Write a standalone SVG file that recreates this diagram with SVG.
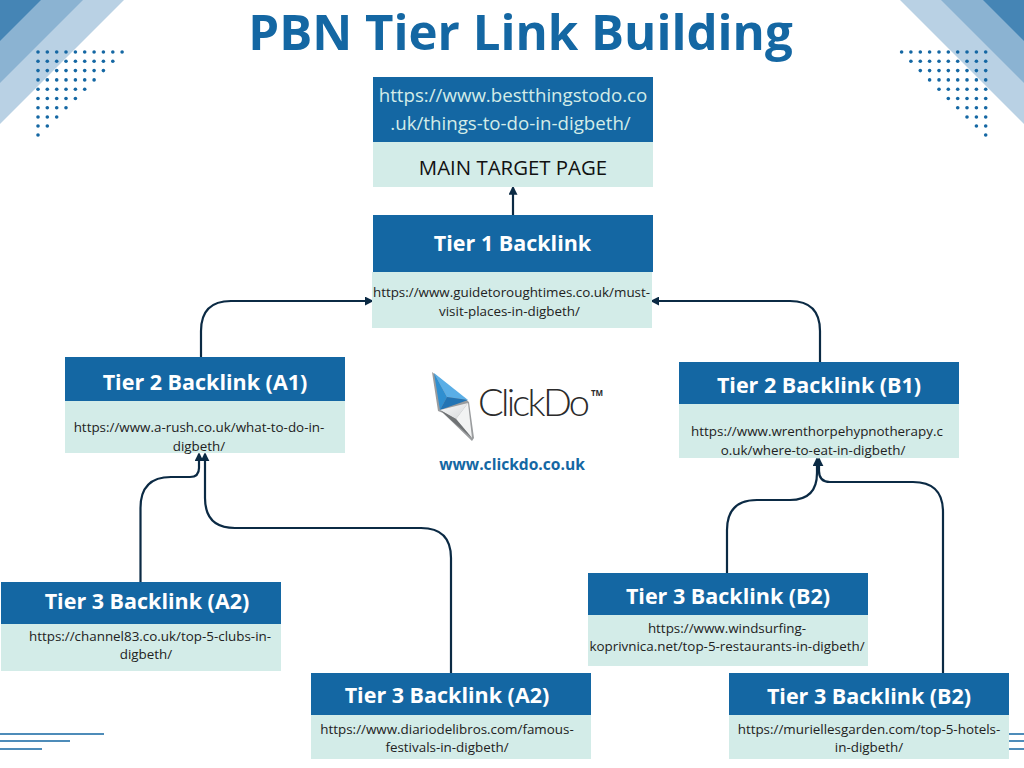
<svg xmlns="http://www.w3.org/2000/svg" xmlns:xlink="http://www.w3.org/1999/xlink" width="1024" height="768" viewBox="0 0 1024 768">
<style>
text{font-family:"Open Sans","Noto Sans",sans-serif;text-anchor:middle}
.head{fill:#1467a3}
.body{fill:#d3ece8}
.h{font-size:21.5px;font-weight:700;fill:#fff}
.u{font-size:13.4px;fill:#222}
.c{fill:none;stroke:#0b2a44;stroke-width:2.2}
.dot{fill:#1467a3}
.bar{fill:none;stroke:#1467a3;stroke-width:1.6}
</style>
<defs>
<marker id="arrow" viewBox="0 0 10 10" refX="8" refY="5" markerWidth="9" markerHeight="9" markerUnits="userSpaceOnUse" orient="auto"><path d="M0 0L10 5L0 10Z" fill="#0b2a44"/></marker>
<circle id="d" r="1.8" class="dot"/>
<linearGradient id="blade" x1="0" y1="0" x2="1" y2="1"><stop offset="0" stop-color="#fafafa"/><stop offset="1" stop-color="#d5d8da"/></linearGradient>
</defs>

<!-- corner bands -->
<g id="corner-left">
<polygon points="0,0 124,0 0,124" fill="#b9d1e4"/>
<polygon points="0,0 83,0 0,83" fill="#8bb3d2"/>
<polygon points="0,0 41,0 0,41" fill="#4585b5"/>
</g>
<g id="corner-right">
<polygon points="1024,0 900,0 1024,124" fill="#b9d1e4"/>
<polygon points="1024,0 941,0 1024,83" fill="#8bb3d2"/>
<polygon points="1024,0 983,0 1024,41" fill="#4585b5"/>
</g>

<!-- dot fields -->
<g id="dots-left">
<use xlink:href="#d" x="38" y="52"/><use xlink:href="#d" x="47.3" y="52"/><use xlink:href="#d" x="56.7" y="52"/><use xlink:href="#d" x="66" y="52"/><use xlink:href="#d" x="75.4" y="52"/><use xlink:href="#d" x="84.7" y="52"/><use xlink:href="#d" x="94.1" y="52"/><use xlink:href="#d" x="103.4" y="52"/><use xlink:href="#d" x="112.8" y="52"/><use xlink:href="#d" x="122.1" y="52"/>
<use xlink:href="#d" x="38" y="61.3"/><use xlink:href="#d" x="47.3" y="61.3"/><use xlink:href="#d" x="56.7" y="61.3"/><use xlink:href="#d" x="66" y="61.3"/><use xlink:href="#d" x="75.4" y="61.3"/><use xlink:href="#d" x="84.7" y="61.3"/><use xlink:href="#d" x="94.1" y="61.3"/><use xlink:href="#d" x="103.4" y="61.3"/><use xlink:href="#d" x="112.8" y="61.3"/>
<use xlink:href="#d" x="38" y="70.6"/><use xlink:href="#d" x="47.3" y="70.6"/><use xlink:href="#d" x="56.7" y="70.6"/><use xlink:href="#d" x="66" y="70.6"/><use xlink:href="#d" x="75.4" y="70.6"/><use xlink:href="#d" x="84.7" y="70.6"/><use xlink:href="#d" x="94.1" y="70.6"/><use xlink:href="#d" x="103.4" y="70.6"/>
<use xlink:href="#d" x="38" y="79.9"/><use xlink:href="#d" x="47.3" y="79.9"/><use xlink:href="#d" x="56.7" y="79.9"/><use xlink:href="#d" x="66" y="79.9"/><use xlink:href="#d" x="75.4" y="79.9"/><use xlink:href="#d" x="84.7" y="79.9"/><use xlink:href="#d" x="94.1" y="79.9"/>
<use xlink:href="#d" x="38" y="89.2"/><use xlink:href="#d" x="47.3" y="89.2"/><use xlink:href="#d" x="56.7" y="89.2"/><use xlink:href="#d" x="66" y="89.2"/><use xlink:href="#d" x="75.4" y="89.2"/><use xlink:href="#d" x="84.7" y="89.2"/>
<use xlink:href="#d" x="38" y="98.5"/><use xlink:href="#d" x="47.3" y="98.5"/><use xlink:href="#d" x="56.7" y="98.5"/><use xlink:href="#d" x="66" y="98.5"/><use xlink:href="#d" x="75.4" y="98.5"/>
<use xlink:href="#d" x="38" y="107.8"/><use xlink:href="#d" x="47.3" y="107.8"/><use xlink:href="#d" x="56.7" y="107.8"/><use xlink:href="#d" x="66" y="107.8"/>
<use xlink:href="#d" x="38" y="117"/><use xlink:href="#d" x="47.3" y="117"/><use xlink:href="#d" x="56.7" y="117"/>
<use xlink:href="#d" x="38" y="126"/><use xlink:href="#d" x="47.3" y="126"/>
<use xlink:href="#d" x="38" y="135"/>
</g>
<g id="dots-right">
<use xlink:href="#d" x="985.7" y="52"/><use xlink:href="#d" x="976.4" y="52"/><use xlink:href="#d" x="967" y="52"/><use xlink:href="#d" x="957.7" y="52"/><use xlink:href="#d" x="948.3" y="52"/><use xlink:href="#d" x="939" y="52"/><use xlink:href="#d" x="929.6" y="52"/><use xlink:href="#d" x="920.3" y="52"/><use xlink:href="#d" x="910.9" y="52"/><use xlink:href="#d" x="901.6" y="52"/>
<use xlink:href="#d" x="985.7" y="61.3"/><use xlink:href="#d" x="976.4" y="61.3"/><use xlink:href="#d" x="967" y="61.3"/><use xlink:href="#d" x="957.7" y="61.3"/><use xlink:href="#d" x="948.3" y="61.3"/><use xlink:href="#d" x="939" y="61.3"/><use xlink:href="#d" x="929.6" y="61.3"/><use xlink:href="#d" x="920.3" y="61.3"/><use xlink:href="#d" x="910.9" y="61.3"/>
<use xlink:href="#d" x="985.7" y="70.6"/><use xlink:href="#d" x="976.4" y="70.6"/><use xlink:href="#d" x="967" y="70.6"/><use xlink:href="#d" x="957.7" y="70.6"/><use xlink:href="#d" x="948.3" y="70.6"/><use xlink:href="#d" x="939" y="70.6"/><use xlink:href="#d" x="929.6" y="70.6"/><use xlink:href="#d" x="920.3" y="70.6"/>
<use xlink:href="#d" x="985.7" y="79.9"/><use xlink:href="#d" x="976.4" y="79.9"/><use xlink:href="#d" x="967" y="79.9"/><use xlink:href="#d" x="957.7" y="79.9"/><use xlink:href="#d" x="948.3" y="79.9"/><use xlink:href="#d" x="939" y="79.9"/><use xlink:href="#d" x="929.6" y="79.9"/>
<use xlink:href="#d" x="985.7" y="89.2"/><use xlink:href="#d" x="976.4" y="89.2"/><use xlink:href="#d" x="967" y="89.2"/><use xlink:href="#d" x="957.7" y="89.2"/><use xlink:href="#d" x="948.3" y="89.2"/><use xlink:href="#d" x="939" y="89.2"/>
<use xlink:href="#d" x="985.7" y="98.5"/><use xlink:href="#d" x="976.4" y="98.5"/><use xlink:href="#d" x="967" y="98.5"/><use xlink:href="#d" x="957.7" y="98.5"/><use xlink:href="#d" x="948.3" y="98.5"/>
<use xlink:href="#d" x="985.7" y="107.8"/><use xlink:href="#d" x="976.4" y="107.8"/><use xlink:href="#d" x="967" y="107.8"/><use xlink:href="#d" x="957.7" y="107.8"/>
<use xlink:href="#d" x="985.7" y="117"/><use xlink:href="#d" x="976.4" y="117"/><use xlink:href="#d" x="967" y="117"/>
<use xlink:href="#d" x="985.7" y="126"/><use xlink:href="#d" x="976.4" y="126"/>
<use xlink:href="#d" x="985.7" y="135"/>
</g>

<!-- footer rules -->
<g id="rules-left">
<path class="bar" d="M0 734H104M0 741H70M0 749H42"/>
</g>
<g id="rules-right">
<path class="bar" d="M1009 734H1024M1009 741H1024M1009 749H1024"/>
</g>

<text id="title" x="520.500" y="50" font-size="49.200" font-weight="700" fill="#1467a3">PBN Tier Link Building</text>

<!-- links between tiers -->
<g id="connectors">
<path class="c" marker-end="url(#arrow)" d="M513 215V187.500"/>
<path class="c" marker-end="url(#arrow)" d="M201 357V331Q201 301 231 301H372"/>
<path class="c" marker-end="url(#arrow)" d="M820 362V331Q820 301 790 301H652"/>
<path class="c" marker-end="url(#arrow)" d="M140.500 582V508Q140.500 477 171 477H190Q199 477 199 468V454"/>
<path class="c" marker-end="url(#arrow)" d="M451 673V558Q451 528 421 528H235Q205 528 205 498V454"/>
<path class="c" marker-end="url(#arrow)" d="M727 573V530Q727 500 757 500H790Q817 500 817 473V459"/>
<path class="c" marker-end="url(#arrow)" d="M943 673V512Q943 482 913 482H830Q819 482 819 471V459"/>
</g>

<g id="node-main">
<rect class="head" x="373" y="77" width="280" height="65"/>
<rect class="body" x="373" y="142" width="280" height="45"/>
<text x="513" y="102" font-size="18.700" fill="#d3ece8">https://www.bestthingstodo.co</text>
<text x="510.500" y="130" font-size="18.700" fill="#d3ece8">.uk/things-to-do-in-digbeth/</text>
<text x="513" y="175" font-size="20.400" fill="#111">MAIN TARGET PAGE</text>
</g>
<g id="node-tier1">
<rect class="head" x="373" y="215" width="280" height="57"/>
<rect class="body" x="372" y="272" width="280" height="56"/>
<text class="h" x="512.500" y="251">Tier 1 Backlink</text>
<text class="u" x="511.500" y="297">https://www.guidetoroughtimes.co.uk/must-</text>
<text class="u" x="509.500" y="316">visit-places-in-digbeth/</text>
</g>
<g id="node-a1">
<rect class="head" x="65" y="357" width="280" height="44"/>
<rect class="body" x="65" y="401" width="280" height="52"/>
<text class="h" x="205" y="390">Tier 2 Backlink (A1)</text>
<text class="u" x="199" y="432">https://www.a-rush.co.uk/what-to-do-in-</text>
<text class="u" x="199" y="451">digbeth/</text>
</g>
<g id="node-b1">
<rect class="head" x="679" y="362" width="280" height="42"/>
<rect class="body" x="679" y="404" width="280" height="54"/>
<text class="h" x="819" y="393">Tier 2 Backlink (B1)</text>
<text class="u" x="817" y="436">https://www.wrenthorpehypnotherapy.c</text>
<text class="u" x="813" y="455">o.uk/where-to-eat-in-digbeth/</text>
</g>
<g id="node-a2-left">
<rect class="head" x="1" y="582" width="280" height="42"/>
<rect class="body" x="1" y="624" width="280" height="47"/>
<text class="h" x="147" y="609">Tier 3 Backlink (A2)</text>
<text class="u" x="150" y="641">https://channel83.co.uk/top-5-clubs-in-</text>
<text class="u" x="146" y="659">digbeth/</text>
</g>
<g id="node-a2-mid">
<rect class="head" x="311" y="673" width="280" height="42"/>
<rect class="body" x="311" y="715" width="280" height="44"/>
<text class="h" x="447" y="703">Tier 3 Backlink (A2)</text>
<text class="u" x="447" y="734">https://www.diariodelibros.com/famous-</text>
<text class="u" x="447" y="752">festivals-in-digbeth/</text>
</g>
<g id="node-b2-mid">
<rect class="head" x="588" y="573" width="280" height="42"/>
<rect class="body" x="588" y="615" width="280" height="51"/>
<text class="h" x="728" y="604">Tier 3 Backlink (B2)</text>
<text class="u" x="727" y="633">https://www.windsurfing-</text>
<text class="u" x="727" y="651">koprivnica.net/top-5-restaurants-in-digbeth/</text>
</g>
<g id="node-b2-right">
<rect class="head" x="729" y="673" width="280" height="42"/>
<rect class="body" x="729" y="715" width="280" height="44"/>
<text class="h" x="869" y="704">Tier 3 Backlink (B2)</text>
<text class="u" x="869" y="734">https://muriellesgarden.com/top-5-hotels-</text>
<text class="u" x="869" y="752">in-digbeth/</text>
</g>

<!-- company mark -->
<g id="logo">
<polygon points="432,372 438,411 443,413 472,441 474,438 469,402" fill="#9a9c9e"/>
<polygon points="434,373 447,397 440,410" fill="#2f8fd0"/>
<polygon points="434,373 468,400 447,397" fill="#5aaee6"/>
<polygon points="447,397 468,400 440,410" fill="#2274b4"/>
<polygon points="440,410 468,403 456,419" fill="url(#blade)"/>
<polygon points="456,419 468,403 472,438" fill="#f2f3f3"/>
<polygon points="440,410 456,419 472,438 452,421" fill="#6f7274"/>
<text x="534" y="416" font-size="38" font-weight="300" fill="#2b2b2b" style="font-family:Lato,'Open Sans',sans-serif" textLength="112" lengthAdjust="spacing">ClickDo</text>
<text x="597" y="396" font-size="8" font-weight="700" fill="#2b2b2b">TM</text>
<text x="512" y="470" font-size="15.600" font-weight="700" fill="#1467a3">www.clickdo.co.uk</text>
</g>
</svg>
